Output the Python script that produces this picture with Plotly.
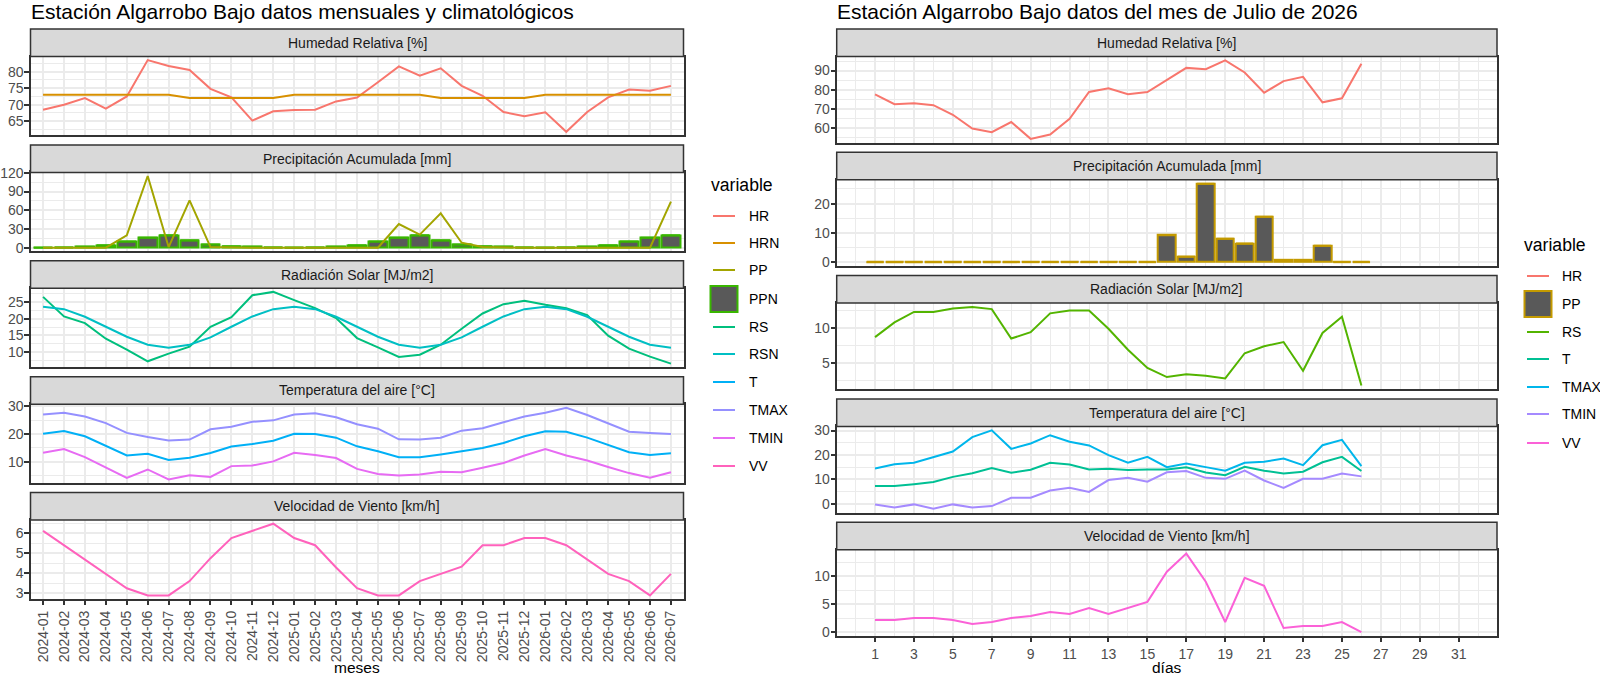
import plotly.graph_objects as go

W, H = 1600, 676
FONT = "Liberation Sans, Arial, sans-serif"

# ---------------- monthly data (left) ----------------
meses = ["2024-01", "2024-02", "2024-03", "2024-04", "2024-05", "2024-06", "2024-07",
         "2024-08", "2024-09", "2024-10", "2024-11", "2024-12", "2025-01", "2025-02",
         "2025-03", "2025-04", "2025-05", "2025-06", "2025-07", "2025-08", "2025-09",
         "2025-10", "2025-11", "2025-12", "2026-01", "2026-02", "2026-03", "2026-04",
         "2026-05", "2026-06", "2026-07"]
HR_m = [68.5, 70.0, 72.0, 68.8, 72.5, 83.5, 81.7, 80.5, 74.8, 72.2, 65.2, 68.0, 68.4, 68.5,
        71.0, 72.2, 76.8, 81.6, 78.8, 81.0, 75.7, 72.7, 67.8, 66.5, 67.7, 61.8, 67.8, 72.2,
        74.6, 74.2, 75.7]
HRN_m = [73, 73, 73, 73, 73, 73, 73, 72, 72, 72, 72, 72, 73, 73, 73, 73, 73, 73, 73, 72,
         72, 72, 72, 72, 73, 73, 73, 73, 73, 73, 73]
PP_m = [0, 0, 0, 0, 20, 115, 1, 76, 1, 0, 0, 0, 0, 0, 0, 0, 0, 38, 21, 55, 8, 1, 0, 0,
        0, 0, 0, 0, 0, 0, 74]
PPN_m = [0, 0.3, 1.5, 4, 10, 16, 20, 12, 5, 2.5, 1.5, 0.3, 0, 0.3, 1.5, 4, 10, 16, 20, 12,
         5, 2.5, 1.5, 0.3, 0, 0.3, 1.5, 4, 10, 16, 20]
RS_m = [26.6, 20.7, 18.7, 14.0, 10.7, 7.2, 9.5, 11.6, 17.6, 20.5, 27.1, 28.1, 25.6, 23.2,
        20.2, 14.2, 11.4, 8.5, 9.2, 12.2, 17.0, 21.6, 24.4, 25.4, 24.2, 23.2, 21.1, 14.9,
        11.0, 8.6, 6.5]
RSN_m = [23.6, 22.9, 20.6, 17.6, 14.6, 12.2, 11.3, 12.2, 14.4, 17.6, 20.7, 22.9, 23.6, 22.9,
         20.6, 17.6, 14.6, 12.2, 11.3, 12.2, 14.4, 17.6, 20.7, 22.9, 23.6, 22.9, 20.6, 17.6,
         14.6, 12.2, 11.3]
TMAX_m = [27.0, 27.6, 26.3, 23.9, 20.4, 18.9, 17.7, 18.0, 21.7, 22.6, 24.4, 24.9, 27.0, 27.4,
          26.0, 23.5, 21.9, 18.1, 18.0, 18.7, 21.2, 22.1, 24.2, 26.3, 27.6, 29.4, 26.8, 23.9,
          20.8, 20.4, 20.0]
T_m = [20.1, 21.1, 19.2, 15.8, 12.3, 12.9, 10.7, 11.5, 13.2, 15.5, 16.4, 17.6, 20.1, 20.0,
       18.7, 15.6, 13.8, 11.7, 11.7, 12.7, 13.8, 15.0, 16.8, 19.2, 21.0, 20.8, 18.7, 16.1,
       13.5, 12.5, 13.1]
TMIN_m = [13.3, 14.6, 11.7, 7.9, 4.3, 7.3, 3.7, 5.2, 4.6, 8.5, 8.7, 10.2, 13.3, 12.5, 11.4,
          7.5, 5.7, 5.1, 5.5, 6.5, 6.3, 7.9, 9.6, 12.3, 14.6, 12.3, 10.5, 8.2, 6.0, 4.3, 6.3]
VV_m = [6.12, 5.40, 4.68, 3.96, 3.24, 2.88, 2.88, 3.60, 4.75, 5.76, 6.12, 6.48, 5.76, 5.40,
        4.28, 3.24, 2.88, 2.88, 3.60, 3.96, 4.32, 5.40, 5.40, 5.76, 5.76, 5.40, 4.66, 3.96,
        3.60, 2.88, 3.96]

# ---------------- daily data (right) ----------------
dias = list(range(1, 27))
HR_d = [77.6, 72.4, 72.9, 71.9, 66.9, 59.7, 57.8, 63.1, 54.3, 56.6, 64.8, 78.8, 80.7, 77.6,
        78.8, 85.0, 91.4, 90.7, 95.3, 89.0, 78.4, 84.5, 86.7, 73.4, 75.5, 93.6]
PP_d = [0, 0, 0, 0, 0, 0, 0, 0, 0, 0, 0, 0, 0, 0, 0, 9.2, 1.9, 26.8, 8.0, 6.4, 15.5, 0.7,
        0.7, 5.6, 0, 0]
RS_d = [8.7, 10.8, 12.3, 12.3, 12.8, 13.0, 12.7, 8.5, 9.4, 12.1, 12.5, 12.5, 9.9, 6.9, 4.3,
        3.0, 3.4, 3.2, 2.8, 6.4, 7.4, 8.0, 3.9, 9.3, 11.6, 1.8]
T_d = [7.2, 7.2, 8.0, 8.9, 11.0, 12.5, 14.6, 12.7, 13.9, 16.8, 16.1, 14.0, 14.3, 13.8, 14.0,
       14.0, 14.9, 12.8, 11.7, 15.1, 13.5, 12.4, 13.1, 17.0, 19.2, 13.4]
TMAX_d = [14.4, 16.2, 16.8, 19.2, 21.4, 27.3, 30.1, 22.5, 24.7, 28.1, 25.4, 23.9, 19.9, 16.8,
          19.2, 15.0, 16.5, 15.0, 13.5, 16.8, 17.2, 18.5, 15.8, 24.0, 26.2, 15.4]
TMIN_d = [-0.3, -1.6, -0.3, -2.1, -0.3, -1.6, -1.0, 2.4, 2.4, 5.4, 6.5, 4.8, 9.7, 10.6, 9.0,
          12.9, 13.4, 10.6, 10.2, 13.6, 9.5, 6.5, 10.2, 10.2, 12.4, 11.2]
VV_d = [2.16, 2.16, 2.52, 2.52, 2.16, 1.44, 1.80, 2.52, 2.88, 3.60, 3.24, 4.32, 3.24, 4.32,
        5.40, 10.80, 14.04, 9.00, 1.80, 9.72, 8.28, 0.72, 1.08, 1.08, 1.80, 0.0]

strip_titles = ["Humedad Relativa [%]", "Precipitación Acumulada [mm]",
                "Radiación Solar [MJ/m2]", "Temperatura del aire [°C]",
                "Velocidad de Viento [km/h]"]
left_vars = ["HR", "HRN", "PP", "PPN", "RS", "RSN", "T", "TMAX", "TMIN", "VV"]
right_vars = ["HR", "PP", "RS", "T", "TMAX", "TMIN", "VV"]

# ---------------- style ----------------
CL = {"HR": "#F8766D", "HRN": "#D89000", "PP": "#A3A500", "PPN": "#39B600", "RS": "#00BF7D",
      "RSN": "#00BFC4", "T": "#00B0F6", "TMAX": "#9590FF", "TMIN": "#E76BF3", "VV": "#FF62BC"}
CR = {"HR": "#F8766D", "PP": "#C49A00", "RS": "#53B400", "T": "#00C094", "TMAX": "#00B6EB",
      "TMIN": "#A58AFF", "VV": "#FB61D7"}
BARFILL = "#595959"
GRID = "#EBEBEB"
DARK = "#333333"
LW = 2.0

LEFT_X = (30.5, 683.5)
RIGHT_X = (836.7, 1497.0)
LEFT_ROWS = [(29, 56.5, 135.4), (144.9, 172.4, 251.3), (260.8, 288.3, 367.2),
             (376.7, 404.2, 483.1), (492.6, 520.1, 599.0)]
RIGHT_ROWS = [(29, 56.5, 142.8), (152.3, 179.8, 266.1), (275.6, 303.1, 389.4),
              (398.9, 426.4, 512.7), (522.2, 549.7, 636.0)]

fig = go.Figure()


def axn(n, k):
    return k if n == 1 else f"{k}{n}"


def line(n, x, y, color):
    fig.add_trace(go.Scatter(x=x, y=y, mode="lines", line=dict(color=color, width=LW),
                             xaxis=axn(n, "x"), yaxis=axn(n, "y"), showlegend=False,
                             hoverinfo="skip"))


def bars(n, x, y, outline, cap):
    fig.add_trace(go.Bar(x=x, y=y, width=0.9, marker=dict(color=BARFILL,
                                                           line=dict(color=outline, width=LW)),
                         xaxis=axn(n, "x"), yaxis=axn(n, "y"), showlegend=False,
                         hoverinfo="skip"))
    # bar tops (so that zero-height bars remain visible as in the reference);
    # plotly's line-ew symbol is 1.4 x size long
    fig.add_trace(go.Scatter(x=x, y=y, mode="markers",
                             marker=dict(symbol="line-ew", size=cap / 1.4,
                                         line=dict(color=outline, width=LW)),
                             xaxis=axn(n, "x"), yaxis=axn(n, "y"), showlegend=False,
                             hoverinfo="skip"))


def expand(*series):
    vals = [v for s in series for v in s]
    lo, hi = min(vals), max(vals)
    d = (hi - lo) * 0.05
    return [lo - d, hi + d]


# left panels (1..5)
line(1, meses, HR_m, CL["HR"])
line(1, meses, HRN_m, CL["HRN"])
bars(2, meses, PPN_m, CL["PPN"], 18.6)
line(2, meses, PP_m, CL["PP"])
line(3, meses, RS_m, CL["RS"])
line(3, meses, RSN_m, CL["RSN"])
line(4, meses, T_m, CL["T"])
line(4, meses, TMAX_m, CL["TMAX"])
line(4, meses, TMIN_m, CL["TMIN"])
line(5, meses, VV_m, CL["VV"])
# right panels (6..10)
line(6, dias, HR_d, CR["HR"])
bars(7, dias, PP_d, CR["PP"], 17.3)
line(8, dias, RS_d, CR["RS"])
line(9, dias, T_d, CR["T"])
line(9, dias, TMAX_d, CR["TMAX"])
line(9, dias, TMIN_d, CR["TMIN"])
line(10, dias, VV_d, CR["VV"])

ranges = [expand(HR_m, HRN_m), expand(PP_m, PPN_m), expand(RS_m, RSN_m),
          expand(T_m, TMAX_m, TMIN_m), expand(VV_m),
          expand(HR_d), expand(PP_d), expand(RS_d), expand(T_d, TMAX_d, TMIN_d), expand(VV_d)]
dticks = [5, 30, 5, 10, 1, 10, 10, 5, 10, 5]

layout = dict(width=W, height=H, autosize=False, margin=dict(l=0, r=0, t=0, b=0, pad=0),
              paper_bgcolor="white", plot_bgcolor="white", font=dict(family=FONT),
              bargap=0, showlegend=False)
shapes = []
annotations = []


def px(x):
    return x / W


def py(y):
    return 1 - y / H


for i in range(10):
    n = i + 1
    left = i < 5
    row = i % 5
    x0, x1 = LEFT_X if left else RIGHT_X
    st, pt, pb = (LEFT_ROWS if left else RIGHT_ROWS)[row]
    bottom = row == 4
    xa = dict(domain=[px(x0), px(x1)], anchor=axn(n, "y"), automargin=False,
              showline=True, mirror=True,
              linecolor=DARK, linewidth=1.5, showgrid=True, gridcolor=GRID, gridwidth=2,
              zeroline=False, ticks="outside" if bottom else "", ticklen=4.4, tickwidth=1.5,
              tickcolor=DARK, showticklabels=bottom,
              tickfont=dict(size=14, color="#4D4D4D", family=FONT))
    if left:
        xa.update(type="category", categoryorder="array", categoryarray=meses,
                  range=[-0.6, len(meses) - 0.4], tickangle=-90)
    else:
        xa.update(type="linear", range=[-0.97, 32.97], tickmode="linear", tick0=1, dtick=2,
                  minor=dict(tick0=0, dtick=1, showgrid=True, gridcolor=GRID, gridwidth=1))
    ya = dict(domain=[py(pb), py(pt)], anchor=axn(n, "x"), automargin=False, range=ranges[i],
              tickmode="linear", tick0=0, dtick=dticks[i], showline=True, mirror=True,
              linecolor=DARK, linewidth=1.5, showgrid=True, gridcolor=GRID, gridwidth=2,
              zeroline=False, ticks="outside", ticklen=4.4, tickwidth=1.5, tickcolor=DARK,
              ticklabelstandoff=-2,
              tickfont=dict(size=14, color="#4D4D4D", family=FONT),
              minor=dict(tick0=0, dtick=dticks[i] / 2, showgrid=True, gridcolor=GRID,
                         gridwidth=1))
    layout["xaxis" if n == 1 else f"xaxis{n}"] = xa
    layout["yaxis" if n == 1 else f"yaxis{n}"] = ya
    # strip
    shapes.append(dict(type="rect", xref="paper", yref="paper", x0=px(x0), x1=px(x1),
                       y0=py(pt), y1=py(st), fillcolor="#D9D9D9",
                       line=dict(color=DARK, width=1.5), layer="above"))
    annotations.append(dict(xref="paper", yref="paper", x=px((x0 + x1) / 2),
                            y=py((st + pt) / 2), text=strip_titles[row], showarrow=False,
                            xanchor="center", yanchor="middle",
                            font=dict(size=14, color="#1A1A1A", family=FONT)))

# titles
annotations.append(dict(xref="paper", yref="paper", x=px(LEFT_X[0] - 2), y=py(11),
                        text="Estación Algarrobo Bajo datos mensuales y climatológicos",
                        showarrow=False, xanchor="left", yanchor="middle",
                        font=dict(size=21, color="black", family=FONT)))
annotations.append(dict(xref="paper", yref="paper", x=px(RIGHT_X[0] - 2), y=py(11),
                        text="Estación Algarrobo Bajo datos del mes de Julio de 2026",
                        showarrow=False, xanchor="left", yanchor="middle",
                        font=dict(size=21, color="black", family=FONT)))
# axis titles
annotations.append(dict(xref="paper", yref="paper", x=px(sum(LEFT_X) / 2), y=py(667.5),
                        text="meses", showarrow=False, xanchor="center", yanchor="middle",
                        borderpad=0, font=dict(size=15.5, color="black", family=FONT)))
annotations.append(dict(xref="paper", yref="paper", x=px(sum(RIGHT_X) / 2), y=py(667.5),
                        text="días", showarrow=False, xanchor="center", yanchor="middle",
                        borderpad=0, font=dict(size=15.5, color="black", family=FONT)))


# legends (ggplot-style keys)
def legend(title_xy, key_x, text_x, items, colors, bar_var, ys):
    annotations.append(dict(xref="paper", yref="paper", x=px(title_xy[0]), y=py(title_xy[1]),
                            text="variable", showarrow=False, xanchor="left",
                            yanchor="middle", font=dict(size=17.6, color="black",
                                                        family=FONT)))
    for name, yy in zip(items, ys):
        if name == bar_var:
            shapes.append(dict(type="rect", xref="paper", yref="paper",
                               x0=px(key_x[0] - 2.5), x1=px(key_x[1] + 2.5),
                               y0=py(yy + 13), y1=py(yy - 13), fillcolor=BARFILL,
                               line=dict(color=colors[name], width=LW)))
        else:
            shapes.append(dict(type="line", xref="paper", yref="paper",
                               x0=px(key_x[0]), x1=px(key_x[1]), y0=py(yy), y1=py(yy),
                               line=dict(color=colors[name], width=LW)))
        annotations.append(dict(xref="paper", yref="paper", x=px(text_x), y=py(yy),
                                text=name, showarrow=False, xanchor="left",
                                yanchor="middle", font=dict(size=14, color="black",
                                                            family=FONT)))


legend((709, 185), (713, 735), 747, left_vars, CL, "PPN",
       [216, 243, 270, 299, 327, 354, 382, 410, 438, 466])
legend((1522, 245), (1527, 1549), 1560, right_vars, CR, "PP",
       [276, 304, 332, 359, 387, 414, 443])

layout["shapes"] = shapes
layout["annotations"] = annotations
fig.update_layout(**layout)

fig.write_html("out.html", config={"displayModeBar": False},
               post_script="document.body.style.margin='0';"
                           "document.body.style.overflow='hidden';")
